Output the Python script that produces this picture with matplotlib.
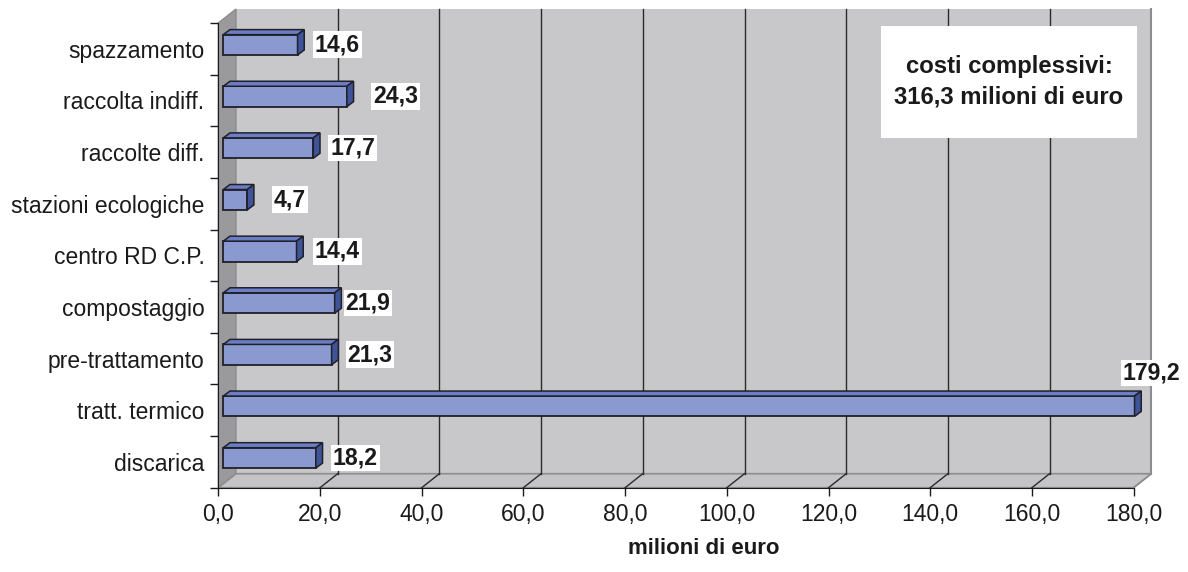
import matplotlib; matplotlib.use('Agg')

import matplotlib.pyplot as plt
from matplotlib.patches import Polygon, Rectangle
import numpy as np

plt.rcParams['font.family'] = ['Liberation Sans', 'DejaVu Sans']

categories = ["spazzamento", "raccolta indiff.", "raccolte diff.", "stazioni ecologiche",
              "centro RD C.P.", "compostaggio", "pre-trattamento", "tratt. termico", "discarica"]
costs = [14.6, 24.3, 17.7, 4.7, 14.4, 21.9, 21.3, 179.2, 18.2]
xticks = np.arange(0, 181, 20)
total_text = "costi complessivi:\n316,3 milioni di euro"

# horizontal nudge of each value label, in points
label_nudge = [0.4, 6.5, 0, 2.2, 1.1, -4.3, -0.7, 0, 0]

W, H = 1188, 572
fig = plt.figure(figsize=(W / 100, H / 100), dpi=100)
# front plane of the plot area, in pixels
x_left, x_right, y_top, y_bot = 218.3, 1133.6, 23.0, 487.7
ax = fig.add_axes([x_left / W, 1 - y_bot / H, (x_right - x_left) / W, (y_bot - y_top) / H])

n = len(categories)
ax.set_xlim(0, 180)
ax.set_ylim(n - 0.5, -0.5)

px_x = (x_right - x_left) / 180.0     # pixels per million
px_y = (y_bot - y_top) / n            # pixels per category

# depth of the walls
dx = 17.7 / px_x
dy = 14.0 / px_y
wall = '#c8c8ca'
side_wall = '#9a9a9c'
edge_grey = '#8c8c8e'

ax.add_patch(Rectangle((dx, -0.5 - dy), 180, n, facecolor=wall, edgecolor='none',
                       zorder=0, clip_on=False))
ax.add_patch(Polygon([(0, -0.5), (dx, -0.5 - dy), (dx, n - 0.5 - dy), (0, n - 0.5)],
                     closed=True, facecolor=side_wall, edgecolor=edge_grey, lw=1,
                     zorder=0.5, clip_on=False))
ax.add_patch(Polygon([(0, n - 0.5), (180, n - 0.5), (180 + dx, n - 0.5 - dy), (dx, n - 0.5 - dy)],
                     closed=True, facecolor='#c4c4c6', edgecolor=edge_grey, lw=1.2,
                     zorder=0.6, clip_on=False))
ax.plot([180 + dx, 180 + dx], [-0.5 - dy, n - 0.5 - dy], color=edge_grey, lw=1.5,
        zorder=0.7, clip_on=False)

# gridlines on the back wall and across the floor
for t in xticks[1:-1]:
    ax.plot([t + dx, t + dx], [-0.5 - dy, n - 0.5 - dy], color='#2a2a2a', lw=1,
            zorder=0.8, clip_on=False)
for t in xticks[1:]:
    ax.plot([t, t + dx], [n - 0.5, n - 0.5 - dy], color='#2a2a2a' if t < 180 else edge_grey,
            lw=1, zorder=0.8, clip_on=False)

# 3d bars: front face, top face and right side
bx = 5.0 / px_x
by = 4.0 / px_y
bh = 20.4 / px_y
ddx = 6.7 / px_x
ddy = 5.0 / px_y
face = '#8a9ad0'
top = '#6b7ec4'
side = '#3f5398'
edge = '#20202a'

ypos = np.arange(n) - by
ax.barh(ypos, costs, height=bh, left=bx, color=face, edgecolor=edge, lw=1.3, zorder=3)
for y, v in zip(ypos, costs):
    y0, y1 = y - bh / 2, y + bh / 2
    x0, x1 = bx, bx + v
    ax.add_patch(Polygon([(x0, y0), (x1, y0), (x1 + ddx, y0 - ddy), (x0 + ddx, y0 - ddy)],
                         closed=True, facecolor=top, edgecolor=edge, lw=1.1, zorder=3,
                         clip_on=False))
    ax.add_patch(Polygon([(x1, y0), (x1 + ddx, y0 - ddy), (x1 + ddx, y1 - ddy), (x1, y1)],
                         closed=True, facecolor=side, edgecolor=edge, lw=1.1, zorder=3,
                         clip_on=False))

# value labels
for y, v, nx in zip(ypos, costs, label_nudge):
    lbl = f"{v:.1f}".replace('.', ',')
    off = (16, 24) if v > 170 else (32 + nx, 0)
    ax.annotate(lbl, xy=(v, y), xytext=off, textcoords='offset points',
                ha='center', va='center', fontsize=16.6, fontweight='bold', color='#1a1a1a',
                bbox=dict(boxstyle='square,pad=0.08', facecolor='white', edgecolor='none'),
                zorder=5, annotation_clip=False)

# total box
bx0 = (881 - x_left) / px_x
bx1 = (1137 - x_left) / px_x
by0 = (25.7 - y_top) / px_y - 0.5
by1 = (137.7 - y_top) / px_y - 0.5
ax.add_patch(Rectangle((bx0, by0), bx1 - bx0, by1 - by0, facecolor='white', edgecolor='none',
                       zorder=4, clip_on=False))
ax.text((bx0 + bx1) / 2, (by0 + by1) / 2, total_text, ha='center', va='center',
        fontsize=17.2, fontweight='bold', color='#1a1a1a', linespacing=1.4, zorder=5)

# axes
ax.set_facecolor('none')
for s in ['top', 'right']:
    ax.spines[s].set_visible(False)
ax.spines['left'].set_color('#1a1a1a')
ax.spines['bottom'].set_color('#1a1a1a')
ax.spines['left'].set_zorder(2)
ax.spines['bottom'].set_zorder(2)

ax.set_xticks(xticks)
ax.set_xticklabels([f"{t:.1f}".replace('.', ',') for t in xticks])
ax.tick_params(axis='x', direction='out', length=6, width=1, color='#1a1a1a',
               labelsize=16.5, labelcolor='#1a1a1a', pad=5)

ax.set_yticks(np.arange(n))
ax.set_yticklabels(categories)
ax.set_yticks(np.arange(n + 1) - 0.5, minor=True)
ax.tick_params(axis='y', which='major', length=0, labelsize=16.5, labelcolor='#1a1a1a', pad=10)
ax.tick_params(axis='y', which='minor', direction='out', length=6, width=1, color='#1a1a1a')

fig.text(704 / W, 1 - 549 / H, "milioni di euro", ha='center', va='center',
         fontsize=16, fontweight='bold', color='#1a1a1a')

fig.savefig('out.png', dpi=100)
